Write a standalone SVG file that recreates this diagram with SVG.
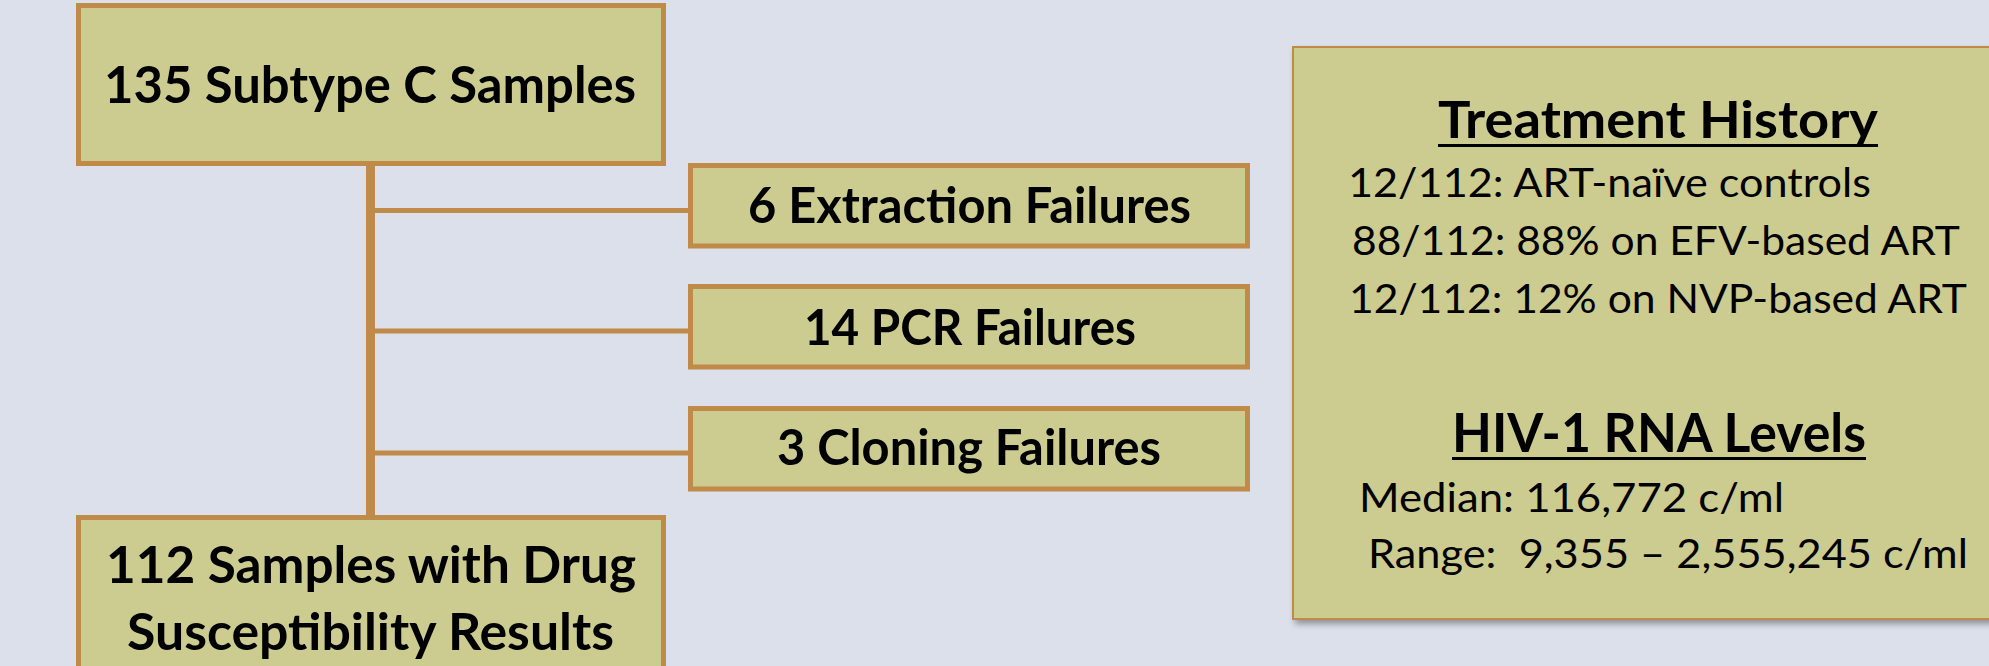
<svg xmlns="http://www.w3.org/2000/svg" width="1989" height="666" viewBox="0 0 1989 666">
<defs>
<filter id="shadow" x="-5%" y="-5%" width="115%" height="115%">
<feDropShadow dx="3" dy="4" stdDeviation="3" flood-color="#000" flood-opacity="0.35"/>
</filter>
<style>
.box{fill:#CCCC90;stroke:#C08A48;stroke-width:5}
.panel{fill:#CCCC90;stroke:#C08A48;stroke-width:2}
.conn{stroke:#C08A48;fill:none}
.b{font-family:Lato,"Open Sans","Liberation Sans",sans-serif;font-weight:bold;fill:#000}
.r{font-family:Lato,"Open Sans","Liberation Sans",sans-serif;font-weight:normal;fill:#000}
</style>
</defs>
<rect width="1989" height="666" fill="#DCE0EA"/>
<g id="connectors">
<line class="conn" x1="370.5" y1="164" x2="370.5" y2="517" stroke-width="9"/>
<line class="conn" x1="370" y1="210.5" x2="690" y2="210.5" stroke-width="5"/>
<line class="conn" x1="370" y1="331" x2="690" y2="331" stroke-width="5"/>
<line class="conn" x1="370" y1="453" x2="690" y2="453" stroke-width="5"/>
</g>
<g id="node-135">
<rect class="box" x="78.5" y="5.5" width="585" height="158"/>
<text class="b" x="104" y="103" font-size="52" textLength="532" lengthAdjust="spacingAndGlyphs">135 Subtype C Samples</text>
</g>
<g id="node-extraction">
<rect class="box" x="690.5" y="165.5" width="557" height="80.5"/>
<text class="b" x="748" y="223" font-size="49" textLength="443" lengthAdjust="spacingAndGlyphs">6 Extraction Failures</text>
</g>
<g id="node-pcr">
<rect class="box" x="690.5" y="286.5" width="557" height="80.5"/>
<text class="b" x="804" y="345" font-size="49" textLength="332" lengthAdjust="spacingAndGlyphs">14 PCR Failures</text>
</g>
<g id="node-cloning">
<rect class="box" x="690.5" y="408.5" width="557" height="80.5"/>
<text class="b" x="777" y="465" font-size="49" textLength="384" lengthAdjust="spacingAndGlyphs">3 Cloning Failures</text>
</g>
<g id="node-112">
<rect class="box" x="78.5" y="517.5" width="585" height="170"/>
<text class="b" x="106" y="583" font-size="52" textLength="530" lengthAdjust="spacingAndGlyphs">112 Samples with Drug</text>
<text class="b" x="127" y="650" font-size="52" textLength="487" lengthAdjust="spacingAndGlyphs">Susceptibility Results</text>
</g>
<g id="panel">
<rect class="panel" x="1293" y="47" width="720" height="572" filter="url(#shadow)"/>
<text class="b" x="1438" y="138" font-size="52" textLength="440" lengthAdjust="spacingAndGlyphs">Treatment History</text>
<rect x="1438" y="144" width="440" height="3" fill="#000"/>
<text class="r" x="1348" y="197" font-size="40" textLength="523" lengthAdjust="spacingAndGlyphs">12/112: ART-naïve controls</text>
<text class="r" x="1352" y="255" font-size="40" textLength="608" lengthAdjust="spacingAndGlyphs">88/112: 88% on EFV-based ART</text>
<text class="r" x="1349" y="313" font-size="40" textLength="618" lengthAdjust="spacingAndGlyphs">12/112: 12% on NVP-based ART</text>
<text class="b" x="1452" y="452" font-size="53" textLength="414" lengthAdjust="spacingAndGlyphs">HIV-1 RNA Levels</text>
<rect x="1452" y="457" width="414" height="3" fill="#000"/>
<text class="r" x="1359" y="512" font-size="40" textLength="425" lengthAdjust="spacingAndGlyphs">Median: 116,772 c/ml</text>
<text class="r" x="1368" y="568" font-size="40" textLength="600" lengthAdjust="spacingAndGlyphs" xml:space="preserve">Range:  9,355 – 2,555,245 c/ml</text>
</g>
</svg>
